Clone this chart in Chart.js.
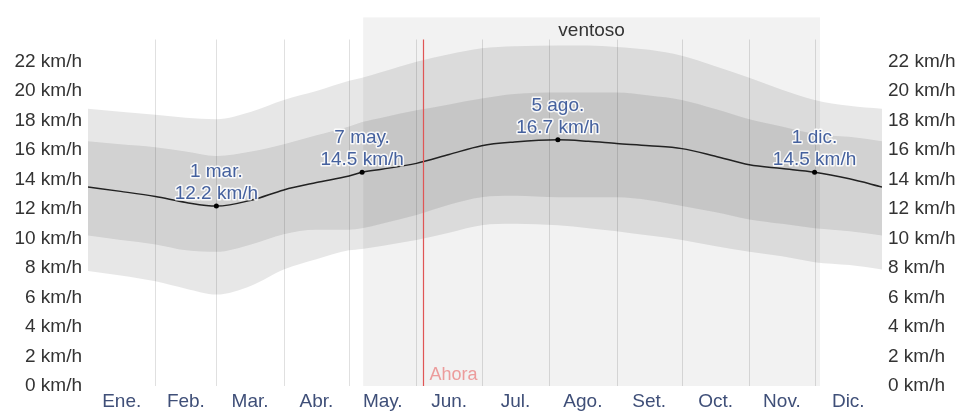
<!DOCTYPE html>
<html><head><meta charset="utf-8">
<script src="https://cdn.jsdelivr.net/npm/chart.js@4/dist/chart.umd.min.js"></script>
<style>html,body{margin:0;padding:0;background:#fff}#wrap{width:964px;height:412px;position:relative}</style>
</head><body><div id="wrap"><canvas id="c"></canvas></div>
<script>
// Day of year (0 = 1 Jan, 365 = 31 Dec end)
const days   = [0, 15, 31, 45, 59, 75, 90, 105, 120, 126, 135, 151, 166, 181, 196, 216, 230, 243, 258, 273, 288, 304, 319, 334, 350, 365];
const meanSpeed = [13.5, 13.2, 12.85, 12.45, 12.2, 12.6, 13.3, 13.8, 14.25, 14.5, 14.7, 15.1, 15.7, 16.3, 16.55, 16.7, 16.6, 16.45, 16.3, 16.1, 15.6, 15.0, 14.75, 14.5, 14.05, 13.5];
const p90 = [18.8, 18.6, 18.4, 18.2, 18.1, 18.6, 19.4, 20.0, 20.7, 20.9, 21.3, 22.0, 22.5, 22.9, 23.05, 23.1, 23.1, 23.0, 22.8, 22.4, 21.7, 20.9, 20.1, 19.4, 19.0, 18.8];
const p75 = [16.6, 16.4, 16.2, 15.9, 15.6, 15.9, 16.4, 17.0, 17.6, 17.9, 18.2, 18.7, 19.1, 19.5, 19.8, 19.9, 19.9, 19.9, 19.7, 19.4, 18.8, 18.1, 17.6, 17.1, 16.9, 16.6];
const p25 = [10.2, 9.9, 9.6, 9.2, 9.1, 9.6, 10.3, 10.6, 10.6, 10.7, 11.0, 11.6, 12.3, 12.8, 12.9, 12.8, 12.8, 12.8, 12.6, 12.2, 11.8, 11.3, 11.0, 10.7, 10.5, 10.2];
const p10 = [7.8, 7.5, 7.1, 6.6, 6.2, 6.8, 7.9, 8.6, 9.2, 9.3, 9.5, 9.9, 10.4, 10.9, 11.0, 10.9, 10.7, 10.5, 10.2, 9.9, 9.5, 9.1, 8.8, 8.4, 8.2, 7.9];

const monthLabels = ['Ene.', 'Feb.', 'Mar.', 'Abr.', 'May.', 'Jun.', 'Jul.', 'Ago.', 'Set.', 'Oct.', 'Nov.', 'Dic.'];
const monthStarts = [0, 31, 59, 90, 120, 151, 181, 212, 243, 273, 304, 334, 365];
const yTicks = [0, 2, 4, 6, 8, 10, 12, 14, 16, 18, 20, 22];

const markDays   = [59, 126, 216, 334];
const markDates  = ['1 mar.', '7 may.', '5 ago.', '1 dic.'];
const markValues = [12.2, 14.5, 16.7, 14.5];

const windyStart = 126.5, windyEnd = 336.5, windyLabel = 'ventoso';
const nowDay = 154, nowLabel = 'Ahora';
const gridTop = 23.5;

const FONT = '"Liberation Sans", Arial, Helvetica, sans-serif';
const FS = 19;
const pts = arr => days.map((d, i) => ({x: d, y: arr[i]}));
const monthMids = monthLabels.map((_, i) => (monthStarts[i] + monthStarts[i + 1]) / 2);

const deco = {
  id: 'deco',
  beforeDatasetsDraw(chart) {
    const {ctx, chartArea: a, scales: {x, y}} = chart;
    const x0 = x.getPixelForValue(windyStart), x1 = x.getPixelForValue(windyEnd);
    ctx.save();
    ctx.fillStyle = '#f2f2f2';
    ctx.fillRect(x0, a.top, x1 - x0, a.bottom - a.top);
    ctx.fillStyle = '#333';
    ctx.font = FS + 'px ' + FONT;
    ctx.textAlign = 'center';
    ctx.textBaseline = 'middle';
    ctx.fillText(windyLabel, (x0 + x1) / 2, a.top + 13);
    ctx.restore();
  },
  afterDatasetsDraw(chart) {
    const {ctx, chartArea: a, scales: {x, y}} = chart;
    ctx.save();
    const gt = y.getPixelForValue(gridTop);
    ctx.lineWidth = 1;
    ctx.strokeStyle = 'rgba(0,0,0,0.12)';
    monthStarts.slice(1, -1).forEach(d => {
      const px = Math.round(x.getPixelForValue(d)) + 0.5;
      ctx.beginPath(); ctx.moveTo(px, gt); ctx.lineTo(px, a.bottom); ctx.stroke();
    });
    // now line
    const nx = Math.round(x.getPixelForValue(nowDay)) + 0.5;
    ctx.beginPath();
    ctx.strokeStyle = '#e05555';
    ctx.lineWidth = 1.2;
    ctx.moveTo(nx, gt); ctx.lineTo(nx, a.bottom);
    ctx.stroke();
    ctx.fillStyle = '#ec9c9c';
    ctx.font = '18px ' + FONT;
    ctx.textAlign = 'left';
    ctx.textBaseline = 'middle';
    ctx.fillText(nowLabel, nx + 6, a.bottom - 11);
    // markers
    markDays.forEach((d, i) => {
      const px = x.getPixelForValue(d), py = y.getPixelForValue(markValues[i]);
      ctx.fillStyle = '#000';
      ctx.beginPath(); ctx.arc(px, py, 2.5, 0, Math.PI * 2); ctx.fill();
      ctx.font = FS + 'px ' + FONT;
      ctx.textAlign = 'center';
      ctx.textBaseline = 'middle';
      const lines = [markDates[i], markValues[i].toFixed(1) + ' km/h'];
      const ys = [py - 34, py - 12];
      lines.forEach((t, k) => {
        ctx.strokeStyle = 'rgba(255,255,255,0.85)';
        ctx.lineWidth = 3;
        ctx.lineJoin = 'round';
        ctx.strokeText(t, px, ys[k]);
        ctx.fillStyle = '#45619e';
        ctx.fillText(t, px, ys[k]);
      });
    });
    ctx.restore();
  }
};

const yAxis = (pos, w) => ({
  type: 'linear', position: pos, min: 0, max: 25,
  grid: {display: false, drawTicks: false}, border: {display: false},
  afterBuildTicks: s => { s.ticks = yTicks.map(v => ({value: v})); },
  afterFit: s => { s.width = w; },
  ticks: {padding: 6, color: '#333', font: {family: FONT, size: FS}, callback: v => v + ' km/h'}
});

new Chart(document.getElementById('c'), {
  type: 'line',
  data: {
    datasets: [
      {data: pts(p90), fill: 1, backgroundColor: 'rgba(0,0,0,0.095)', borderWidth: 0, pointRadius: 0},
      {data: pts(p10), fill: false, borderWidth: 0, pointRadius: 0},
      {data: pts(p75), fill: 3, backgroundColor: 'rgba(0,0,0,0.095)', borderWidth: 0, pointRadius: 0},
      {data: pts(p25), fill: false, borderWidth: 0, pointRadius: 0},
      {data: pts(meanSpeed), fill: false, borderColor: '#2a2a2a', borderWidth: 1.5, pointRadius: 0}
    ]
  },
  options: {
    responsive: true, maintainAspectRatio: false, animation: false, devicePixelRatio: 1,
    layout: {padding: {top: 11, bottom: 0, left: 0, right: 0}},
    elements: {line: {cubicInterpolationMode: 'monotone'}},
    plugins: {legend: {display: false}, tooltip: {enabled: false}},
    scales: {
      x: {
        type: 'linear', min: 0, max: 365,
        grid: {display: false, drawTicks: false}, border: {display: false},
        afterBuildTicks: s => { s.ticks = monthMids.map(v => ({value: v})); },
        afterFit: s => { s.height = 26; },
        ticks: {autoSkip: false, maxRotation: 0, padding: 4, color: '#3f4f78', font: {family: FONT, size: FS},
                callback: (v, i) => monthLabels[i]}
      },
      y: yAxis('left', 88),
      y2: yAxis('right', 82)
    }
  },
  plugins: [deco]
});
</script></body></html>
